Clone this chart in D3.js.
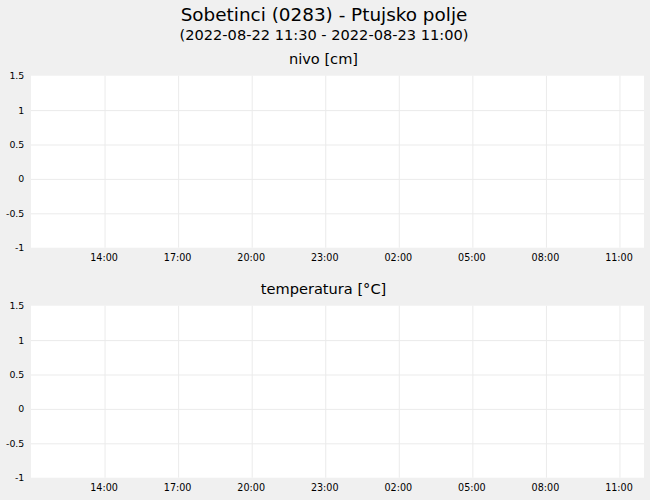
<!DOCTYPE html>
<html><head><meta charset="utf-8">
<script src="https://cdn.jsdelivr.net/npm/d3@7"></script>
<style>
html,body{margin:0;padding:0;background:#f0f0f0;}
svg{display:block;font-family:"DejaVu Sans",sans-serif;}
</style></head>
<body>
<svg id="c" width="650" height="500"></svg>
<script>
const title = "Sobetinci (0283) - Ptujsko polje";
const subtitle = "(2022-08-22 11:30 - 2022-08-23 11:00)";
const panelTitles = ["nivo [cm]", "temperatura [°C]"];
const timeDomain = ["2022-08-22T11:00", "2022-08-23T12:00"];
const xTickTimes = ["2022-08-22T14:00","2022-08-22T17:00","2022-08-22T20:00","2022-08-22T23:00","2022-08-23T02:00","2022-08-23T05:00","2022-08-23T08:00","2022-08-23T11:00"];
const yDomain = [-1, 1.5];
const yTicks = [-1, -0.5, 0, 0.5, 1, 1.5];
const nivoValues = [];
const temperaturaValues = [];
const series = [nivoValues, temperaturaValues];

const parse = d3.timeParse("%Y-%m-%dT%H:%M");
const svg = d3.select("#c");
const W = 650, left = 31, right = 644, ph = 172;
const tops = [75.7, 305.7];

svg.append("text").attr("x", W/2 - 1).attr("y", 21).attr("text-anchor","middle")
  .attr("font-size", 18.4).attr("fill","#000").text(title);
svg.append("text").attr("x", W/2 - 1).attr("y", 39.5).attr("text-anchor","middle")
  .attr("font-size", 14.6).attr("fill","#000").text(subtitle);

const x = d3.scaleTime().domain(timeDomain.map(parse)).range([left, right]);
const fmt = d3.timeFormat("%H:%M");

tops.forEach((top, i) => {
  const y = d3.scaleLinear().domain(yDomain).range([top + ph, top]);
  const g = svg.append("g");
  g.append("text").attr("x", W/2 - 1.5).attr("y", top - 12).attr("text-anchor","middle")
    .attr("font-size", 14.6).attr("fill","#000").text(panelTitles[i]);
  g.append("rect").attr("x", left).attr("y", top).attr("width", right-left).attr("height", ph).attr("fill","#fff");
  const ya = d3.axisLeft(y).tickValues(yTicks).tickSize(-(right-left)).tickPadding(6.7).tickFormat(d => String(d));
  const yg = g.append("g").attr("transform", `translate(${left},0)`).call(ya);
  yg.select(".domain").remove();
  yg.selectAll(".tick line").attr("stroke", "#ebebeb").attr("stroke-width", 1)
    .filter(d => d === yDomain[0] || d === yDomain[1]).remove();
  yg.selectAll(".tick text").attr("font-size", 9.4).attr("fill","#000").attr("font-family","DejaVu Sans");
  const xa = d3.axisBottom(x).tickValues(xTickTimes.map(parse)).tickSize(-ph).tickPadding(6.4).tickFormat(fmt);
  const xg = g.append("g").attr("transform", `translate(0,${top+ph})`).call(xa);
  xg.select(".domain").remove();
  xg.selectAll(".tick line").attr("stroke", "#ebebeb").attr("stroke-width", 1);
  xg.selectAll(".tick text").attr("font-size", 9.6).attr("fill","#000").attr("font-family","DejaVu Sans").attr("dx", -1);
  const line = d3.line().x(d => x(parse(d[0]))).y(d => y(d[1]));
  if (series[i].length) g.append("path").datum(series[i]).attr("d", line).attr("fill","none").attr("stroke","#1f77b4");
});
</script>
</body></html>
